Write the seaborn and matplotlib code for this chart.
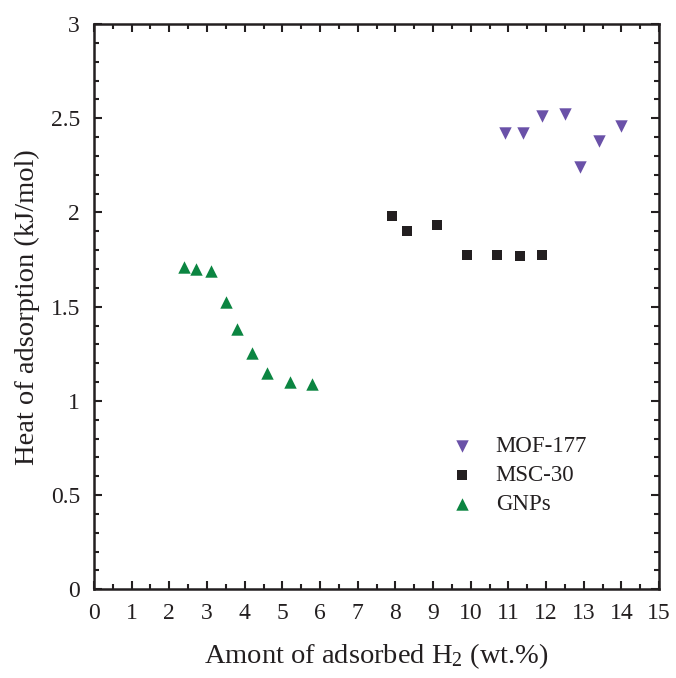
import matplotlib
matplotlib.use("Agg")
import matplotlib.pyplot as plt
import seaborn as sns
import pandas as pd
from matplotlib.ticker import MultipleLocator

sns.set_theme(style="ticks")
plt.rcParams['font.family'] = ['Liberation Serif', 'DejaVu Serif']
plt.rcParams['mathtext.fontset'] = 'custom'
plt.rcParams['mathtext.rm'] = 'Liberation Serif'
plt.rcParams['mathtext.it'] = 'Liberation Serif:italic'

mof_x = [10.9, 11.4, 11.9, 12.5, 12.9, 13.4, 14.0]
mof_y = [2.42, 2.42, 2.51, 2.52, 2.24, 2.38, 2.46]
msc_x = [7.9, 8.3, 9.1, 9.9, 10.7, 11.3, 11.9]
msc_y = [1.98, 1.90, 1.935, 1.775, 1.775, 1.77, 1.775]
gnp_x = [2.4, 2.7, 3.1, 3.5, 3.8, 4.2, 4.6, 5.2, 5.8]
gnp_y = [1.71, 1.70, 1.69, 1.525, 1.38, 1.255, 1.15, 1.10, 1.09]

xticks = list(range(0, 16))
yticks = [0, 0.5, 1, 1.5, 2, 2.5, 3]
yticklabels = ["0", "0.5", "1", "1.5", "2", "2.5", "3"]

fig = plt.figure(figsize=(6.76, 6.78), dpi=100)
ax = fig.add_axes([0.139, 0.1308, 0.836, 0.8338])

series = [
    ("MOF-177", mof_x, mof_y, "v", "#6a51a8", 80),
    ("MSC-30", msc_x, msc_y, "s", "#231f20", 45),
    ("GNPs", gnp_x, gnp_y, "^", "#0b8541", 80),
]
for name, xs, ys, m, c, s in series:
    df = pd.DataFrame({"x": xs, "y": ys})
    sns.scatterplot(data=df, x="x", y="y", marker=m, color=c, s=s,
                    linewidth=0, ax=ax, label=name)

ax.set_xlim(0, 15)
ax.set_ylim(0, 3)
ax.set_xticks(xticks)
ax.set_xticklabels([str(t) for t in xticks])
ax.set_yticks(yticks)
ax.set_yticklabels(yticklabels)
ax.xaxis.set_minor_locator(MultipleLocator(0.5))
ax.yaxis.set_minor_locator(MultipleLocator(0.1))
ax.tick_params(which="both", direction="in", top=True, right=True,
               labelsize=17, color="#231f20", labelcolor="#231f20")
ax.tick_params(which="major", length=6, width=1.5, pad=10)
ax.tick_params(which="minor", length=3.5, width=1.5)
for sp in ax.spines.values():
    sp.set_linewidth(1.8)
    sp.set_color("#231f20")

ax.set_xlabel("Amont of adsorbed H$_2$ (wt.%)", fontsize=20.5, color="#231f20", labelpad=12)
ax.set_ylabel("Heat of adsorption (kJ/mol)", fontsize=20.5, color="#231f20", labelpad=8)

leg = ax.legend(loc="lower left", bbox_to_anchor=(0.575, 0.095), frameon=False,
                fontsize=16.5, handletextpad=0.45, labelspacing=0.35,
                markerscale=1.0)
for t in leg.get_texts():
    t.set_color("#231f20")

fig.savefig("out.png", dpi=100)
